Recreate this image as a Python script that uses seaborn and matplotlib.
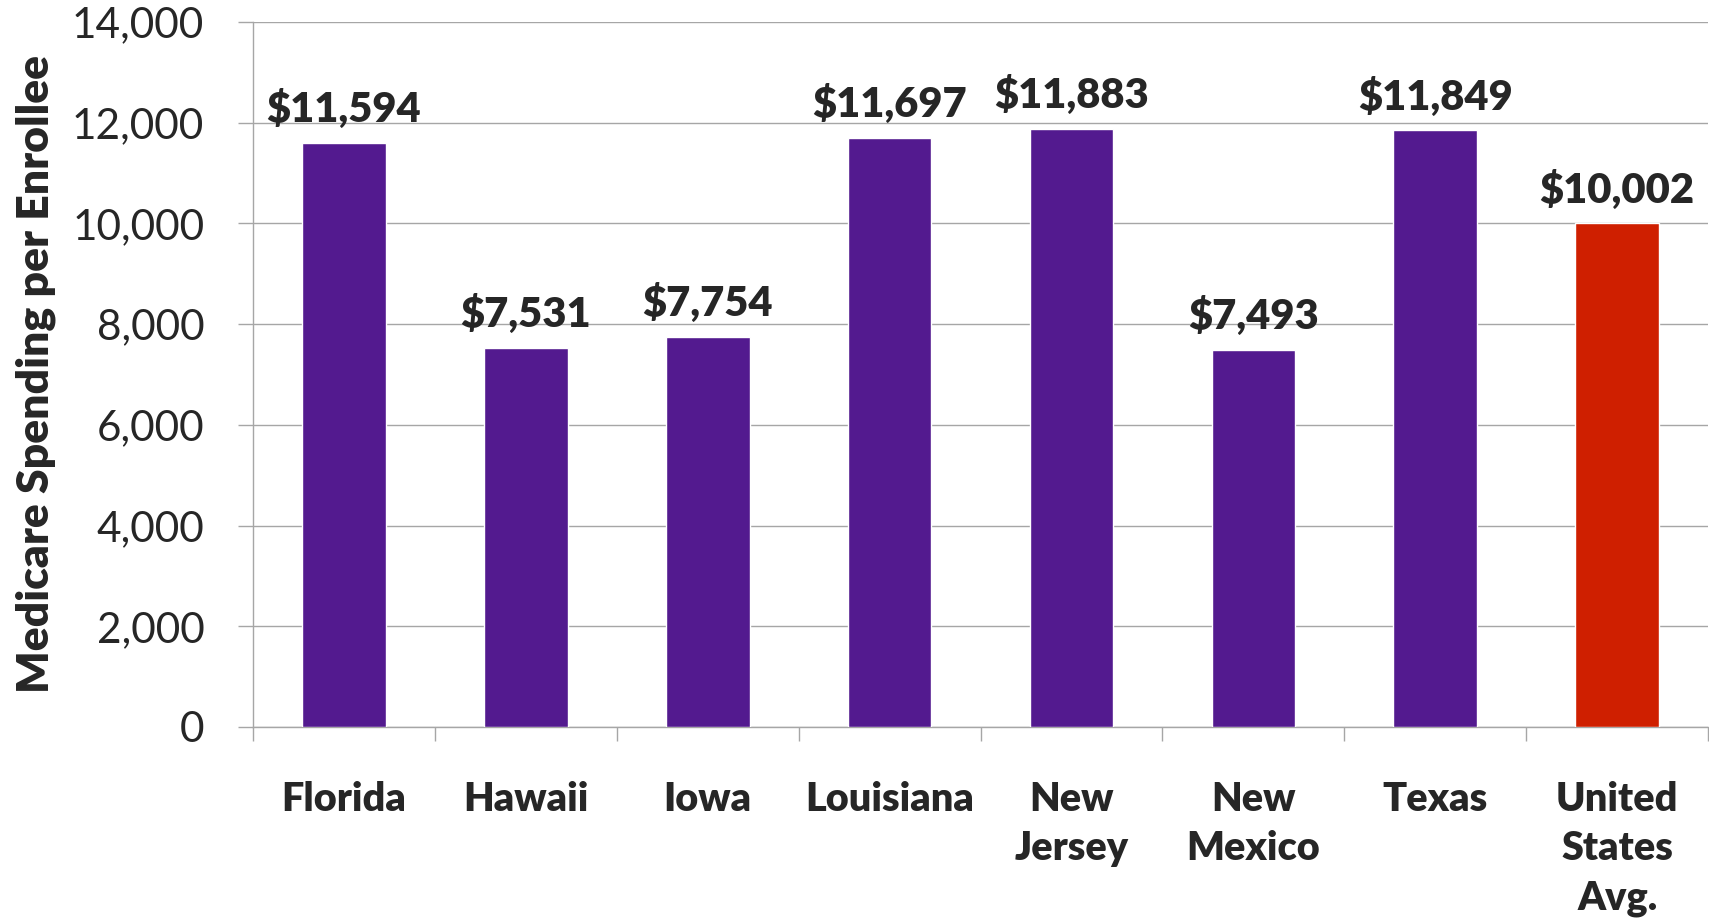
import matplotlib.pyplot as plt
import numpy as np
import seaborn as sns
from matplotlib.ticker import FuncFormatter, FixedLocator

# Data
states = ["Florida", "Hawaii", "Iowa", "Louisiana", "New\nJersey", "New\nMexico", "Texas", "United\nStates\nAvg."]
spending = [11594, 7531, 7754, 11697, 11883, 7493, 11849, 10002]
bar_colors = ["#531A8F"] * 7 + ["#CF1F00"]

sns.set_style("white")
plt.rcParams["font.family"] = ["Lato", "DejaVu Sans"]

grid_col = "#A6A6A6"
heavy = 800

fig = plt.figure(figsize=(17.09, 9.19), dpi=100)
ax = fig.add_axes([0.148, 0.209, 0.8515, 0.767])

sns.barplot(x=states, y=spending, hue=states, palette=bar_colors, legend=False,
            width=0.46, saturation=1, ax=ax, zorder=3)

# value labels above bars
for i, v in enumerate(spending):
    ax.annotate(f"${v:,}", (i, v), xytext=(0, 15), textcoords="offset points",
                ha="center", va="baseline", fontsize=30, fontweight=heavy)

ax.set_ylim(0, 14000)
ax.set_xlim(-0.5, len(states) - 0.5)
ax.set_yticks(np.arange(0, 14001, 2000))
ax.yaxis.set_major_formatter(FuncFormatter(lambda y, _: f"{int(y):,}"))
ax.yaxis.grid(True, color=grid_col, linewidth=1.0, zorder=0)
ax.xaxis.grid(False)

for side in ["top", "right"]:
    ax.spines[side].set_visible(False)
for side in ["left", "bottom"]:
    ax.spines[side].set_color(grid_col)
    ax.spines[side].set_linewidth(1.0)

ax.tick_params(axis="y", which="major", left=True, length=11, width=1.0, color=grid_col,
               pad=24, labelsize=30.5)
ax.tick_params(axis="x", which="major", bottom=False, length=0, pad=39, labelsize=28.5)
ax.xaxis.set_minor_locator(FixedLocator(np.arange(-0.5, len(states), 1.0)))
ax.tick_params(axis="x", which="minor", bottom=True, length=10, width=1.0, color=grid_col)

for lbl in ax.get_xticklabels():
    lbl.set_fontweight(heavy)
    lbl.set_linespacing(1.4)

ax.set_xlabel("")
ax.set_ylabel("Medicare Spending per Enrollee", fontsize=32, fontweight=heavy)
ax.yaxis.set_label_coords(-0.135, 0.5)

fig.savefig("out.png", dpi=100)
